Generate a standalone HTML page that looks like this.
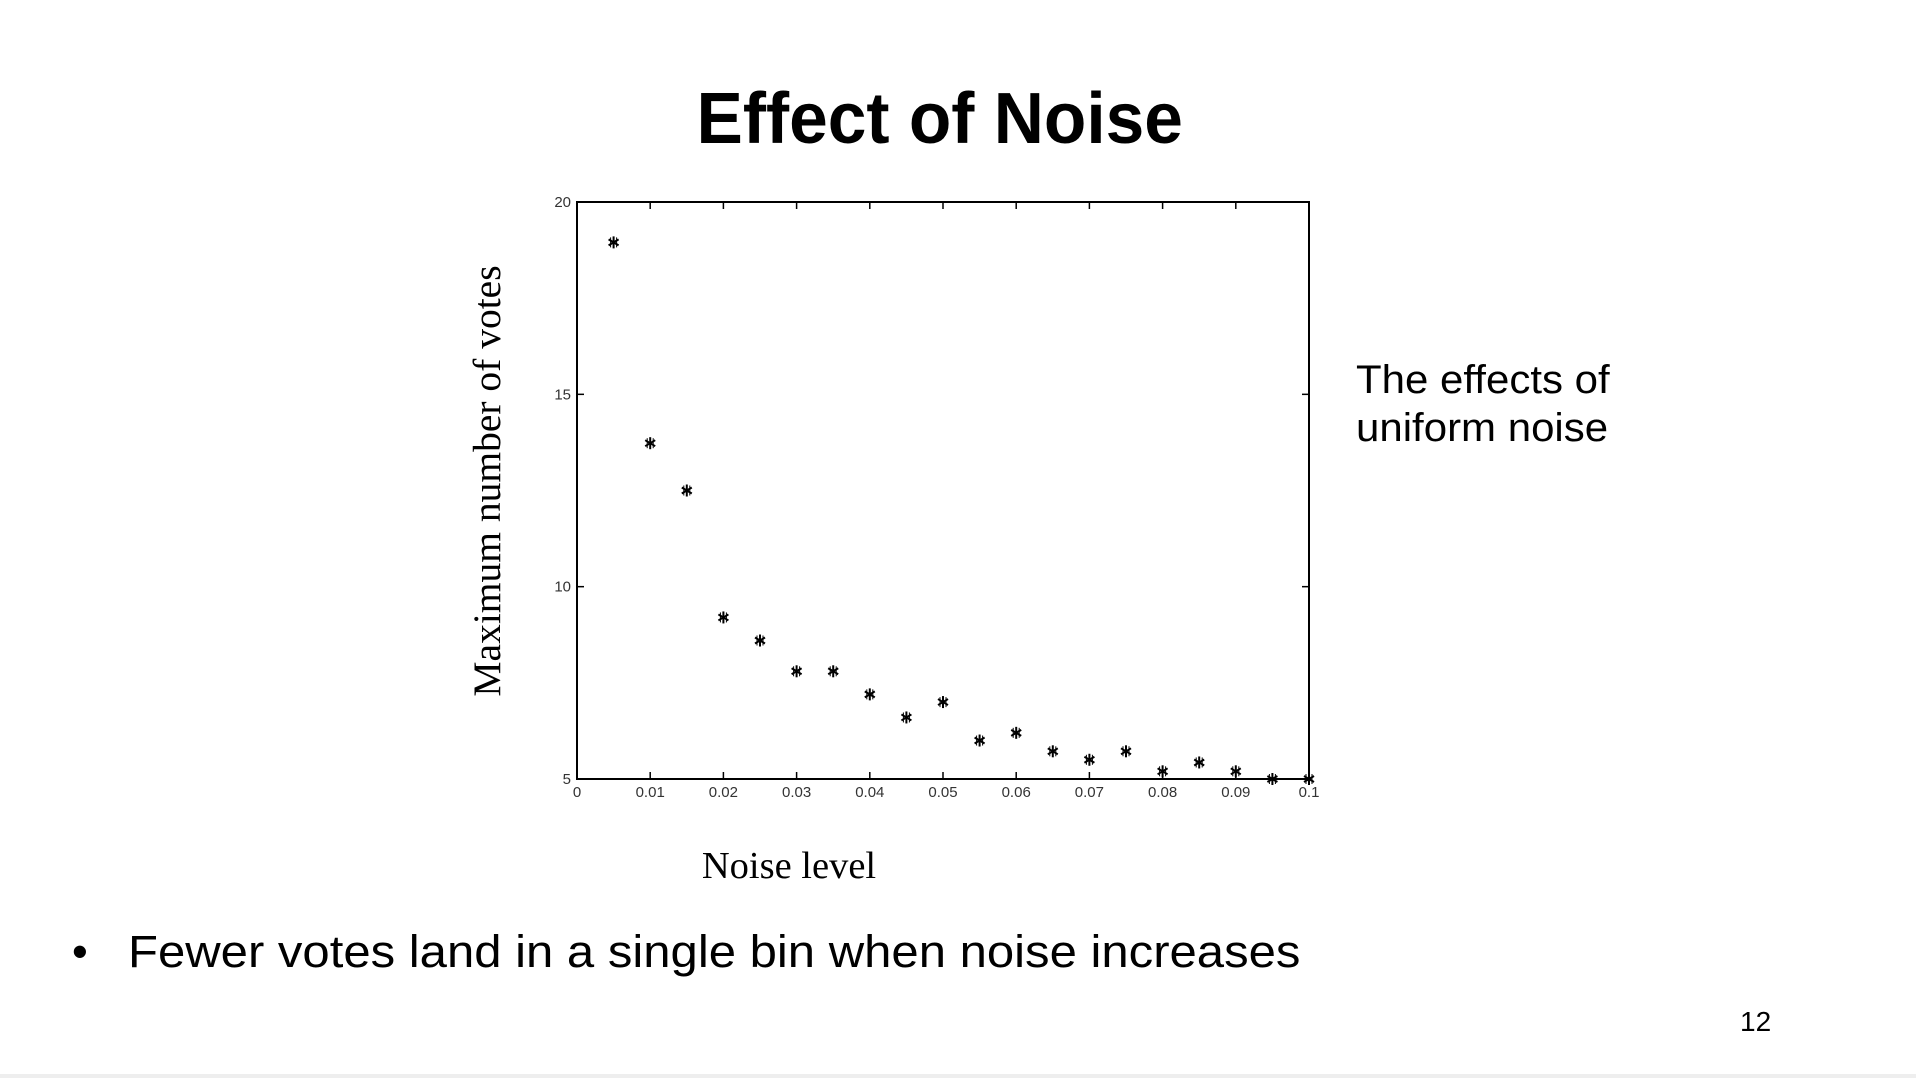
<!DOCTYPE html>
<html><head><meta charset="utf-8"><style>
body{margin:0;width:1916px;height:1078px;background:#fff;overflow:hidden;position:relative;font-family:"Liberation Sans",sans-serif;}
.t{position:absolute;white-space:nowrap;color:#000;}
</style></head><body>
<div class="t" style="left:-8px;width:1896px;text-align:center;top:78px;font-size:72px;font-weight:bold;transform:scaleX(0.965);transform-origin:940px 0;">Effect of Noise</div>
<div class="t" style="left:1356px;top:356px;font-size:40px;line-height:48px;transform:scaleX(1.05);transform-origin:0 0;">The effects of<br>uniform noise</div>
<div class="t" style="left:72px;top:926px;font-size:45px;"><span>•</span><span style="position:absolute;left:56px;top:0;transform:scaleX(1.09);transform-origin:0 0;">Fewer votes land in a single bin when noise increases</span></div>
<div class="t" style="left:1740px;top:1006px;font-size:28px;">12</div>
<div style="position:absolute;left:0;top:1074px;width:1916px;height:4px;background:#eee;"></div>
<svg id="chart" width="1916" height="1078" style="position:absolute;left:0;top:0">
</svg>
<script>
const xTicks=[0,0.01,0.02,0.03,0.04,0.05,0.06,0.07,0.08,0.09,0.1];
const xTickLabels=["0","0.01","0.02","0.03","0.04","0.05","0.06","0.07","0.08","0.09","0.1"];
const yTicks=[5,10,15,20];
const noiseLevels=[0.005,0.01,0.015,0.02,0.025,0.03,0.035,0.04,0.045,0.05,0.055,0.06,0.065,0.07,0.075,0.08,0.085,0.09,0.095,0.1];
const maxVotes=[18.95,13.73,12.5,9.2,8.6,7.8,7.8,7.2,6.6,7.0,6.0,6.2,5.72,5.5,5.72,5.2,5.43,5.2,5.0,5.0];
const L=577,R=1309,T=202,B=779;
const sx=v=>L+(v-0)/(0.1-0)*(R-L);
const sy=v=>B-(v-5)/(20-5)*(B-T);
const svg=document.getElementById('chart');
const NS='http://www.w3.org/2000/svg';
function mk(tag,attrs){const e=document.createElementNS(NS,tag);for(const k in attrs)e.setAttribute(k,attrs[k]);svg.appendChild(e);return e;}
const frame=mk('rect',{x:L,y:T,width:R-L,height:B-T,fill:'none',stroke:'#000','stroke-width':2});


xTicks.forEach((v,i)=>{
  const x=sx(v);
  const t1=mk('line',{x1:x,y1:B,x2:x,y2:B-7,stroke:'#000','stroke-width':1.5});
  
  
  const t2=mk('line',{x1:x,y1:T,x2:x,y2:T+7,stroke:'#000','stroke-width':1.5});
  
  
  const lb=mk('text',{x:x,y:B+18,'text-anchor':'middle','font-size':15,'font-family':'Liberation Sans, sans-serif',fill:'#333'});
  lb.textContent=xTickLabels[i];
  
  
});
yTicks.forEach(v=>{
  const y=sy(v);
  const t1=mk('line',{x1:L,y1:y,x2:L+7,y2:y,stroke:'#000','stroke-width':1.5});
  
  
  const t2=mk('line',{x1:R,y1:y,x2:R-7,y2:y,stroke:'#000','stroke-width':1.5});
  
  
  const lb=mk('text',{x:L-6,y:y+5,'text-anchor':'end','font-size':15,'font-family':'Liberation Sans, sans-serif',fill:'#333'});
  lb.textContent=String(v);
  
  
});
noiseLevels.forEach((v,i)=>{
  const x=sx(v),y=sy(maxVotes[i]);
  const g=document.createElementNS(NS,'g');
  
  
  [[0,-6,0,6],[-5,-3,5,3],[-5,3,5,-3],[-3,-5,-3,5],[3,-5,3,5]].forEach(s=>{
    const l=document.createElementNS(NS,'line');
    l.setAttribute('x1',x+s[0]);l.setAttribute('y1',y+s[1]);l.setAttribute('x2',x+s[2]);l.setAttribute('y2',y+s[3]);
    l.setAttribute('stroke','#000');l.setAttribute('stroke-width',Math.abs(s[0])===3?'1':'2');
    g.appendChild(l);
  });
  svg.appendChild(g);
});
const xt=mk('text',{x:789,y:878,'text-anchor':'middle','font-size':38.5,'font-family':'Liberation Serif, serif',fill:'#000'});
xt.textContent='Noise level';


const yt=mk('text',{x:0,y:0,'text-anchor':'middle','font-size':39.5,'font-family':'Liberation Serif, serif',fill:'#000',transform:'translate(500,481) rotate(-90)'});
yt.textContent='Maximum number of votes';


</script>
</body></html>
